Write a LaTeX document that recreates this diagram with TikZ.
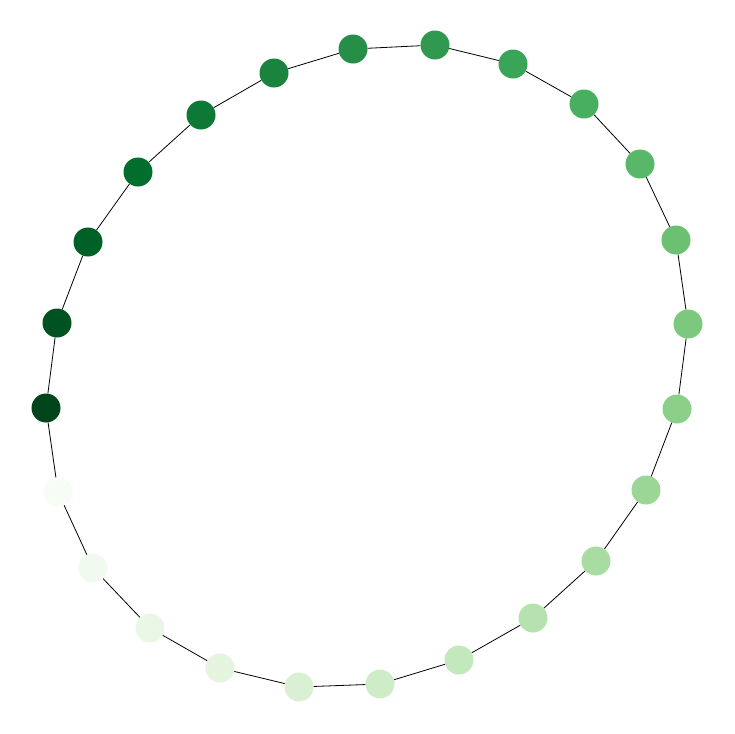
\documentclass[tikz,border=0pt]{standalone}
\begin{document}
\begin{tikzpicture}[x=1pt,y=-1pt,
  vtx/.style={circle,inner sep=0pt,minimum size=29pt,draw=none},
  edge/.style={black,line width=0.8pt}]
\useasboundingbox (0,0) rectangle (734,734);
\foreach \i/\x/\y/\r/\g/\b in {
 0/58/492/247/252/245,
 1/93/568/241/250/238,
 2/150/628/234/247/230,
 3/220/668/228/244/223,
 4/299/687/217/240/212,
 5/380/684/207/236/200,
 6/459/660/196/232/189,
 7/533/618/182/226/176,
 8/596/561/169/220/163,
 9/646/490/155/214/150,
 10/677/409/140/207/137,
 11/688/324/124/200/124,
 12/676/240/107/192/114,
 13/640/164/89/183/105,
 14/584/104/72/174/96,
 15/513/64/58/164/88,
 16/435/45/48/153/79,
 17/353/49/38/142/71,
 18/274/73/26/131/62,
 19/201/115/14/121/54,
 20/138/172/2/110/45,
 21/88/242/0/97/39,
 22/57/323/0/82/33,
 23/46/408/0/68/27}{
  \definecolor{vc\i}{RGB}{\r,\g,\b}
  \node[vtx,fill=vc\i] (n\i) at (\x,\y) {};
}
\foreach \i [evaluate=\i as \j using {int(mod(\i+1,24))}] in {0,...,23}{
  \draw[edge] (n\i) -- (n\j);
}
\end{tikzpicture}
\end{document}
